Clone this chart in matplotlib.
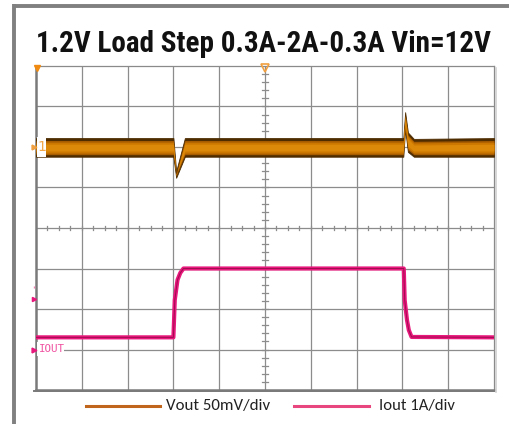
import os
import numpy as np
import matplotlib
matplotlib.use("Agg")
import matplotlib.pyplot as plt
from matplotlib import font_manager as fm

# ---------------- data ----------------
title = "1.2V Load Step 0.3A-2A-0.3A Vin=12V"
legend_labels = ["Vout 50mV/div", "Iout 1A/div"]

# time axis in divisions (10 div across screen)
vout_t = [0.0, 3.00, 3.06, 3.25, 8.02, 8.06, 8.12, 8.25, 10.0]
vout_upper_mv = [11, 11, -30, 11, 11, 43, 18, 10, 11]    # upper envelope (mV)
vout_lower_mv = [-12, -12, -38, -12, -12, 22, -6, -12, -12]  # lower envelope (mV)
vout_scale_mv_per_div = 50
vout_offset_div = 6.0

iout_t = [0.0, 3.00, 3.03, 3.09, 3.15, 3.22, 8.03, 8.05, 8.10, 8.14, 8.20, 10.0]
iout_a = [0.3, 0.3, 1.22, 1.72, 1.89, 2.0, 2.0, 1.22, 0.73, 0.48, 0.31, 0.3]
iout_scale_a_per_div = 1.0
iout_offset_div = 1.0


def find_font(patterns):
    files = [f.fname for f in fm.fontManager.ttflist]
    for p in patterns:
        for fn in files:
            if p in os.path.basename(fn).lower():
                return fm.FontProperties(fname=fn)
    return None


title_fp = find_font(["liberationsansnarrow-bold.", "arialnarrow-bold", "arial narrow bold",
                      "robotocondensed-bold.", "notosans-condensedbold.",
                      "opensans_condensed-bold.", "opensanscondensed-bold.",
                      "dejavusanscondensed-bold.", "liberationsans-bold."])
if title_fp is None:
    title_fp = fm.FontProperties(family="DejaVu Sans", weight="bold")

legend_fp = find_font(["carlito-regular.", "opensans-regular.", "liberationsans-regular."])
if legend_fp is None:
    legend_fp = fm.FontProperties(family="DejaVu Sans")

# ---------------- figure ----------------
W, H = 510, 424
fig = plt.figure(figsize=(W / 100, H / 100), dpi=100)
bg = fig.add_axes([0, 0, 1, 1])
bg.set_xlim(0, W)
bg.set_ylim(H, 0)
bg.axis("off")

# outer frame (left + top gray lines)
bg.plot([14.5, 14.5], [4, H], color="#808080", lw=2.8, solid_capstyle="butt")
bg.plot([13, W], [5.5, 5.5], color="#808080", lw=2.8, solid_capstyle="butt")


def fit_text(ax_, x, y, s, fp, target_w, size0, **kw):
    t = ax_.text(x, y, s, fontproperties=fp, fontsize=size0, **kw)
    fig.canvas.draw()
    w = t.get_window_extent().width
    if w > 0:
        t.set_fontsize(size0 * target_w / w)
    return t


fit_text(bg, 264, 51.5, title, title_fp, 456, 21.5, ha="center", va="baseline",
         color="#111111")

# legend
bg.plot([86, 160], [406, 406], color="#c0651c", lw=2.2)
fit_text(bg, 166, 406, legend_labels[0], legend_fp, 104, 10, ha="left", va="center",
         color="#222222")
bg.plot([294, 369], [406, 406], color="#e8467f", lw=2.2)
fit_text(bg, 379, 406, legend_labels[1], legend_fp, 76, 10, ha="left", va="center",
         color="#222222")

# scope screen axes
L, R, T, B = 36, 494, 66, 390
ax = fig.add_axes([L / W, (H - B) / H, (R - L) / W, (B - T) / H])
ax.set_xlim(0, 10)
ax.set_ylim(0, 8)
ax.set_xticks([])
ax.set_yticks([])
for s in ax.spines.values():
    s.set_color("#8a8a8a")
    s.set_linewidth(0.9)
ax.spines["left"].set_linewidth(1.8)
ax.spines["bottom"].set_linewidth(1.8)
ax.spines["left"].set_color("#7a7a7a")
ax.spines["bottom"].set_color("#7a7a7a")

gc = "#8c8c8c"
for i in range(1, 10):
    ax.axvline(i, color=gc, lw=0.9, zorder=1)
for j in range(1, 8):
    ax.axhline(j, color=gc, lw=0.9, zorder=1)
# center graticule ticks
for k in range(1, 40):
    y = k * 0.2
    ax.plot([4.945, 5.055], [y, y], color=gc, lw=0.9, zorder=1)
for k in range(1, 40):
    x = k * 0.25
    ax.plot([x, x], [3.94, 4.06], color=gc, lw=0.9, zorder=1)

# Vout band
t = np.array(vout_t)
u = np.array(vout_upper_mv) / vout_scale_mv_per_div + vout_offset_div
l = np.array(vout_lower_mv) / vout_scale_mv_per_div + vout_offset_div
c = (u + l) / 2
h = (u - l) / 2
ax.fill_between(t, l, u, color="#4e2c00", lw=0.6, edgecolor="#4e2c00", zorder=3)
for inset, col in [(0.04, "#a85c00"), (0.08, "#cc7800"), (0.13, "#dc8808")]:
    hi = np.maximum(h - inset, 0.0)
    ax.fill_between(t, c - hi + 0.01, c + hi - 0.02, color=col, lw=0, zorder=4)

# Iout trace
ti = np.array(iout_t)
yi = np.array(iout_a) / iout_scale_a_per_div + iout_offset_div
ax.plot(ti, yi, color="#e8177c", lw=3.0, zorder=5, solid_joinstyle="round")
ax.plot(ti, yi, color="#a00c50", lw=0.7, zorder=6)

# overlay for markers
ov = fig.add_axes([0, 0, 1, 1])
ov.set_xlim(0, W)
ov.set_ylim(H, 0)
ov.axis("off")
ov.patch.set_alpha(0)

ov.plot([496, 496], [68, 392], color="#d0d0d0", lw=1.2)
ov.plot([34, 494], [390.5, 390.5], color="#7a7a7a", lw=1.4)

ov.add_patch(plt.Rectangle((37.5, 137), 8.5, 20, facecolor="white", edgecolor="none", zorder=10))
ov.text(41.8, 147, "1", ha="center", va="center", fontsize=10, color="#f2a848",
        family="DejaVu Sans", zorder=11)
ov.plot([34.5], [147], marker=">", ms=3.5, color="#f0a040", zorder=11)

ov.add_patch(plt.Rectangle((37.5, 342), 26.5, 14, facecolor="white", edgecolor="none", zorder=10))
ov.text(38.5, 349.5, "IOUT", ha="left", va="center", fontsize=7.8, color="#f050a0",
        family="DejaVu Sans Mono", zorder=11)
ov.plot([34.5], [349.5], marker=">", ms=3.5, color="#e8177c", zorder=11)
ov.plot([34.5], [298.5], marker=">", ms=3, color="#e8177c", zorder=11)
ov.plot([34.5], [287], marker="|", ms=2, color="#f080b0", zorder=11)

# trigger markers
ov.plot([37.5], [67.5], marker="v", ms=4, color="#f08a10", zorder=11)
ov.plot([265], [68], marker="v", ms=6, markerfacecolor="none", markeredgecolor="#f0a040",
        mew=1.2, zorder=11)

fig.savefig("out.png", dpi=100)
